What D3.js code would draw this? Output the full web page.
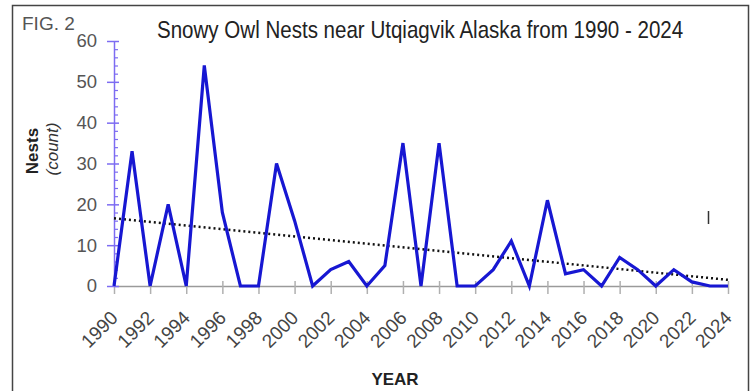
<!DOCTYPE html>
<html>
<head>
<meta charset="utf-8">
<script src="https://cdn.jsdelivr.net/npm/d3@7"></script>
<style>
  html, body { margin: 0; padding: 0; background: #fff; }
  svg { display: block; font-family: "Liberation Sans", Arial, sans-serif; }
</style>
</head>
<body>
<svg id="chart"></svg>
<script>
// data
const years = d3.range(1990, 2025);
const nests = [0, 33, 0, 20, 0, 54, 18, 0, 0, 30, 16, 0, 4, 6, 0, 5, 35, 0, 35, 0,
               0, 4, 11, 0, 21, 3, 4, 0, 7, 4, 0, 4, 1, 0, 0];
const trendYears = [1990, 2024];
const trendValues = [16.6, 1.5];
const yTickValues = [0, 10, 20, 30, 40, 50, 60];
const yMinorValues = d3.range(0, 61, 2).filter(v => v % 10 !== 0);
const xTickLabels = d3.range(1990, 2025, 2);

const width = 753, height = 391;
const svg = d3.select('#chart')
    .attr('width', width)
    .attr('height', height)
    .attr('viewBox', `0 0 ${width} ${height}`);

const x = d3.scaleLinear().domain([1990, 2024]).range([114, 728]);
const y = d3.scaleLinear().domain([0, 60]).range([286, 41]);

// cadre
svg.append('path')
    .attr('d', 'M12.5,400 V5.5 H748.5 V400')
    .attr('fill', 'none')
    .attr('stroke', '#444')
    .attr('stroke-width', 1.5);

// titres
svg.append('text')
    .attr('x', 22).attr('y', 30)
    .attr('font-size', 19)
    .attr('fill', '#555')
    .text('FIG. 2');

// titre condensé : on écrase horizontalement
svg.append('text')
    .attr('transform', 'translate(157,38) scale(0.856,1)')
    .attr('font-size', 24)
    .attr('fill', '#222')
    .text('Snowy Owl Nests near Utqiagvik Alaska from 1990 - 2024');

// axe x
const xAxis = svg.append('g')
    .attr('transform', `translate(0,${y(0)})`)
    .call(d3.axisBottom(x).tickValues(xTickLabels).tickSizeOuter(0).tickFormat(''));
xAxis.select('.domain').attr('stroke', '#9a9a9a').attr('stroke-width', 1.5);
xAxis.selectAll('.tick line')
    .attr('y1', -5).attr('y2', 8)
    .attr('stroke', '#b0b0b0').attr('stroke-width', 1.5);

svg.append('g').selectAll('text')
    .data(xTickLabels)
    .join('text')
    .attr('transform', d => `translate(${x(d) + 5},${y(0) + 33}) rotate(-45)`)
    .attr('text-anchor', 'end')
    .attr('font-size', 19)
    .attr('fill', '#444')
    .text(d => d);

// axe y
const yAxis = svg.append('g')
    .attr('transform', `translate(${x(1990)},0)`)
    .call(d3.axisLeft(y).tickValues(yTickValues).tickSizeInner(7).tickSizeOuter(0).tickPadding(10));
yAxis.select('.domain').attr('stroke', '#7d6cf2').attr('stroke-width', 1.5);
yAxis.selectAll('.tick line').attr('x1', 5).attr('stroke', '#7d6cf2').attr('stroke-width', 1.5);
yAxis.selectAll('.tick text')
    .attr('font-size', 18.5)
    .attr('fill', '#555')
    .attr('font-family', '"Liberation Sans", Arial, sans-serif');

const yMinor = svg.append('g')
    .attr('transform', `translate(${x(1990)},0)`)
    .call(d3.axisRight(y).tickValues(yMinorValues).tickSize(4).tickFormat(''));
yMinor.select('.domain').remove();
yMinor.selectAll('.tick line').attr('stroke', '#7d6cf2').attr('stroke-width', 1.2);

// titres des axes
svg.append('text')
    .attr('transform', 'translate(38,151) rotate(-90)')
    .attr('text-anchor', 'middle')
    .attr('font-size', 17)
    .attr('font-weight', 'bold')
    .attr('fill', '#222')
    .text('Nests');

svg.append('text')
    .attr('transform', 'translate(58,149) rotate(-90)')
    .attr('text-anchor', 'middle')
    .attr('font-size', 17)
    .attr('font-style', 'italic')
    .attr('fill', '#333')
    .text('(count)');

svg.append('text')
    .attr('x', 395).attr('y', 385)
    .attr('text-anchor', 'middle')
    .attr('font-size', 17)
    .attr('font-weight', 'bold')
    .attr('fill', '#222')
    .text('YEAR');

// tendance
svg.append('path')
    .datum(trendYears.map((yr, i) => [yr, trendValues[i]]))
    .attr('d', d3.line().x(d => x(d[0])).y(d => y(d[1])))
    .attr('fill', 'none')
    .attr('stroke', '#111')
    .attr('stroke-width', 2.5)
    .attr('stroke-dasharray', '2,3');

// série
svg.append('path')
    .datum(years.map((yr, i) => [yr, nests[i]]))
    .attr('d', d3.line().x(d => x(d[0])).y(d => y(d[1])))
    .attr('fill', 'none')
    .attr('stroke', '#1717d2')
    .attr('stroke-width', 3.2)
    .attr('stroke-linejoin', 'miter');

// petite marque parasite du scan
svg.append('line')
    .attr('x1', 708.5).attr('x2', 708.5)
    .attr('y1', 211).attr('y2', 224)
    .attr('stroke', '#333')
    .attr('stroke-width', 1.5);
</script>
</body>
</html>
